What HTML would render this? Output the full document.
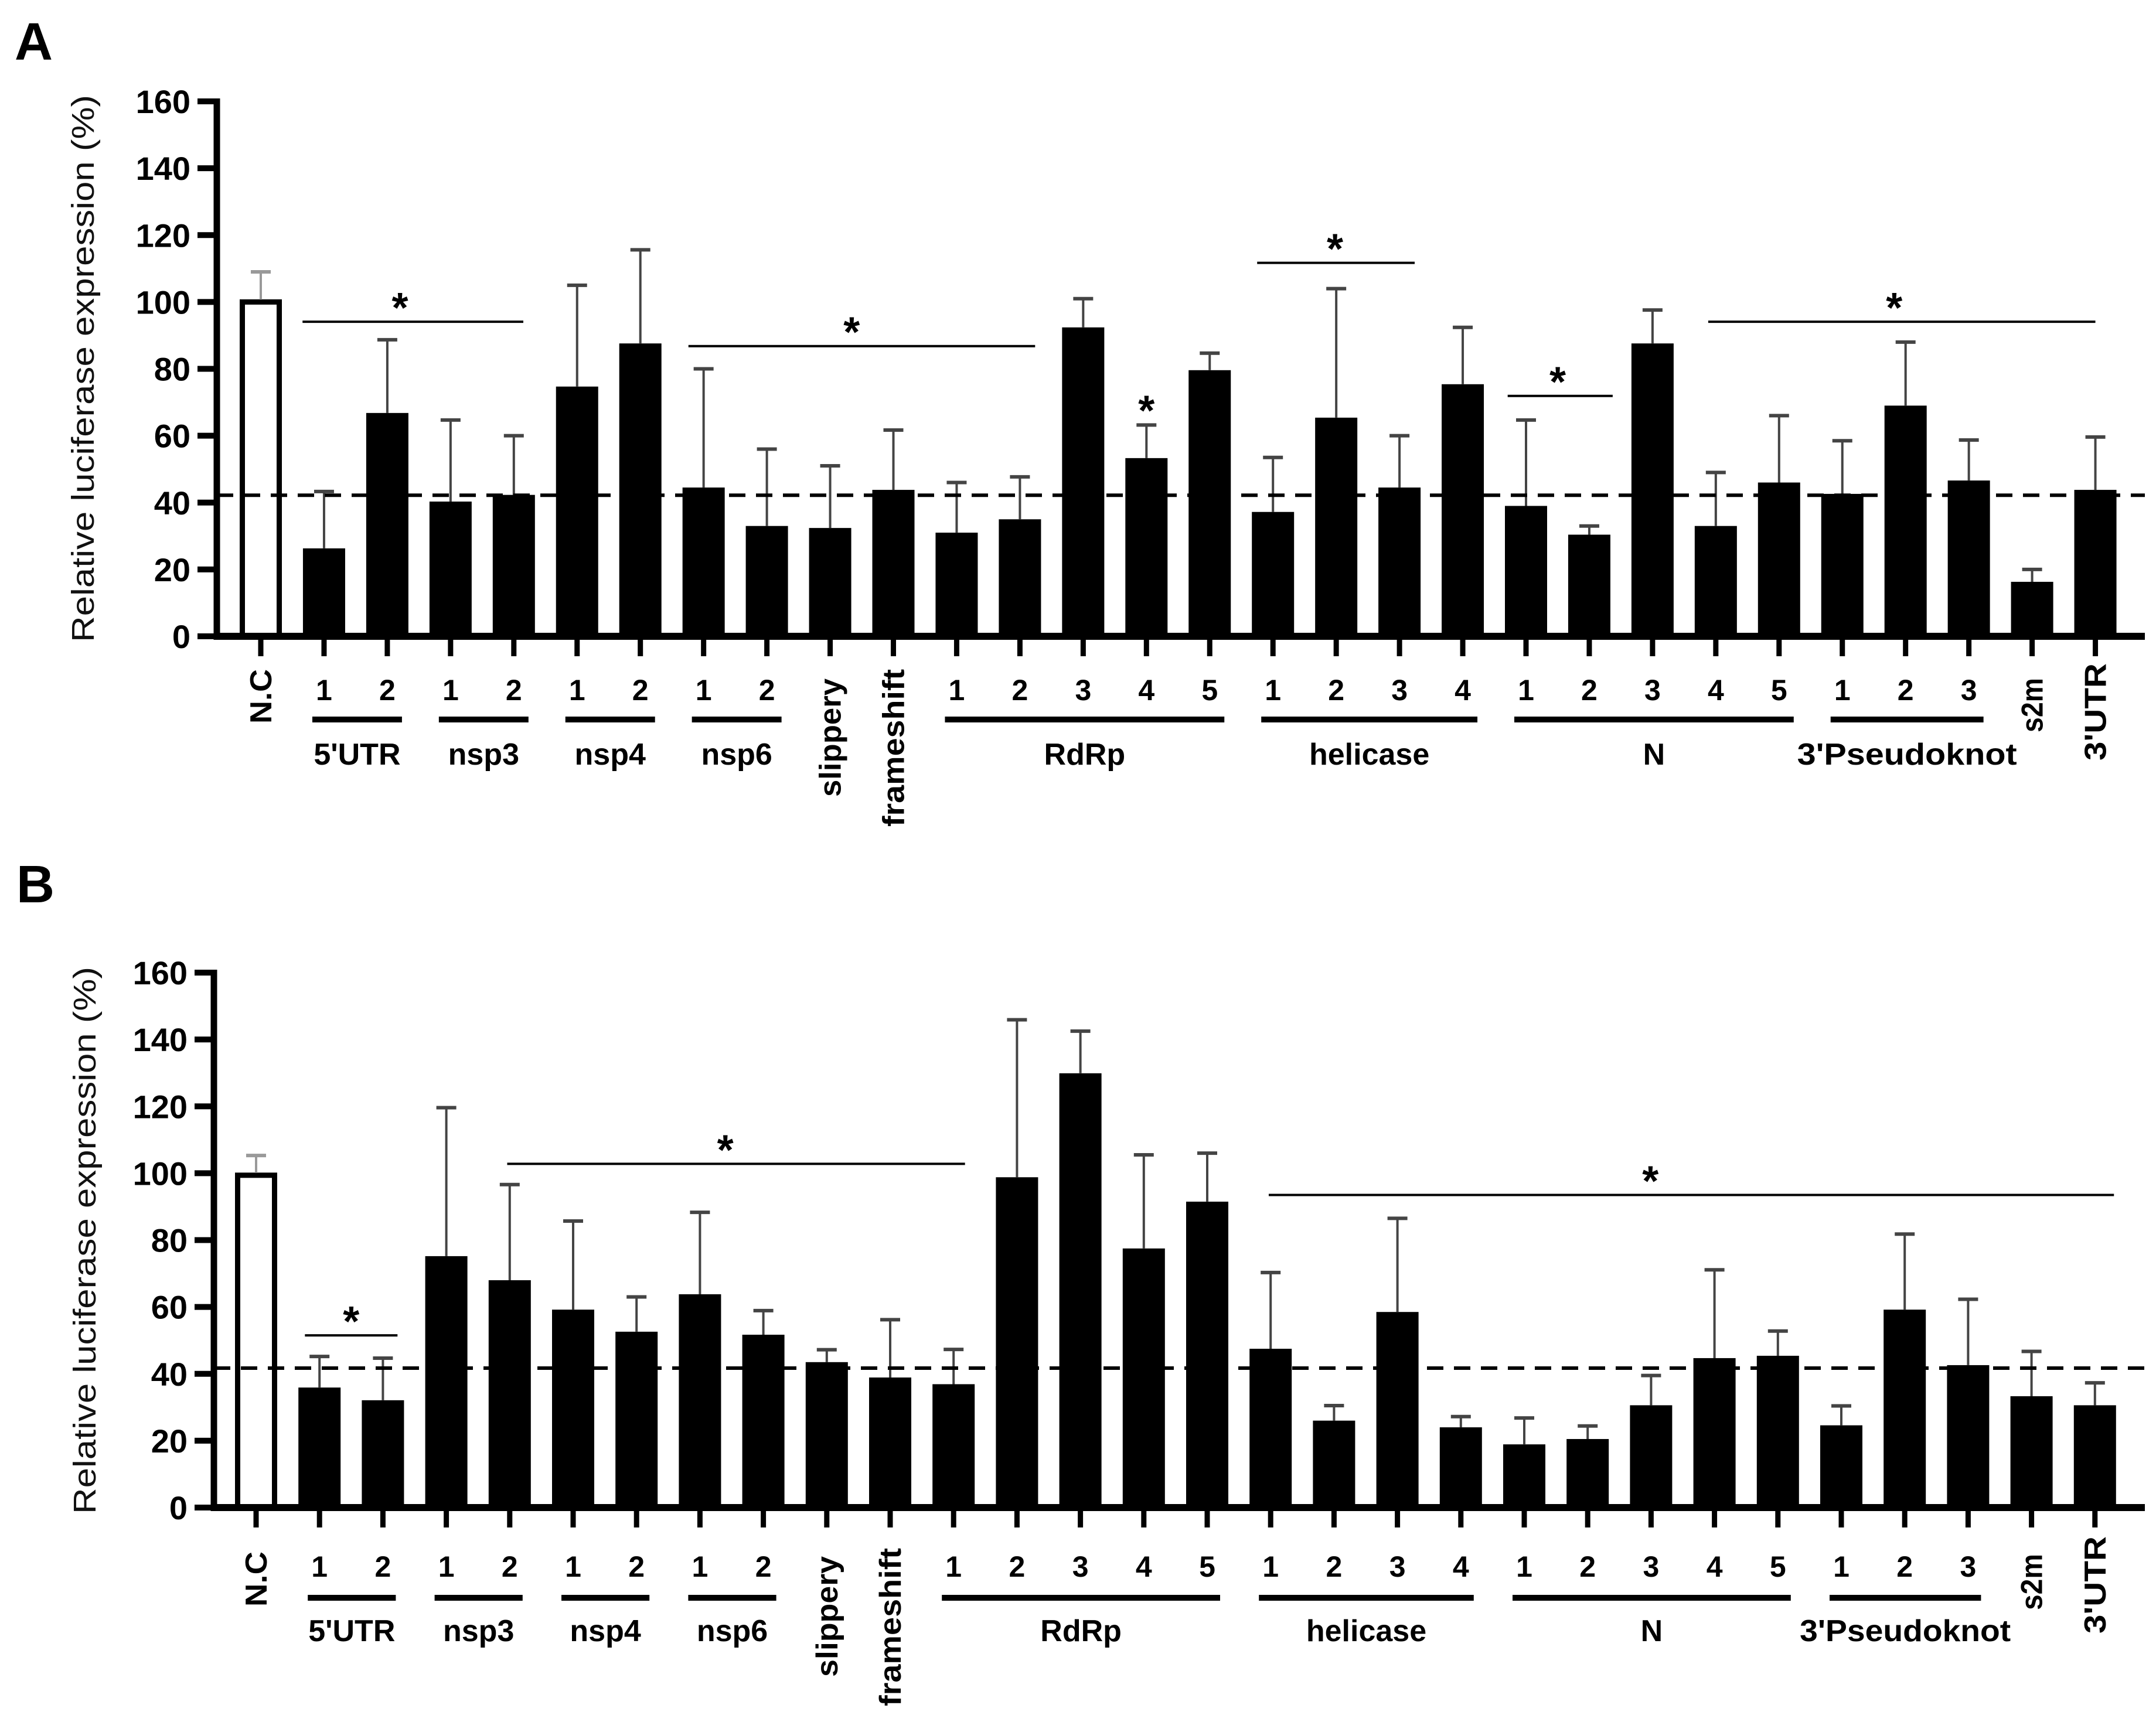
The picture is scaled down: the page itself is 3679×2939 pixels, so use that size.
<!DOCTYPE html>
<html><head><meta charset="utf-8"><title>Relative luciferase expression</title>
<style>html,body{margin:0;padding:0;background:#fff}svg{display:block}text{font-family:"Liberation Sans",Arial,sans-serif}</style>
</head><body>
<svg id="fig" width="3679" height="2939" viewBox="0 0 3679 2939" xmlns="http://www.w3.org/2000/svg">
<rect width="3679" height="2939" fill="#fff"/>
</svg>
<script>
const categories = ['N.C','1','2','1','2','1','2','1','2','slippery','frameshift','1','2','3','4','5','1','2','3','4','1','2','3','4','5','1','2','3','s2m',"3'UTR"];
const groupNames = ["5'UTR",'nsp3','nsp4','nsp6','RdRp','helicase','N',"3'Pseudoknot"];
const groupFirst = [1,3,5,7,11,16,20,25];
const groupLast  = [2,4,6,8,15,19,24,27];
const yTicks = [0,20,40,60,80,100,120,140,160];
const valuesA = [100,26.3,66.8,40.3,42.3,74.7,87.6,44.5,33,32.4,43.8,31,35,92.4,53.3,79.6,37.2,65.4,44.5,75.4,39,30.4,87.6,33,46,42.6,69,46.6,16.3,43.8];
const errA    = [109,43.3,88.7,64.7,60,105,115.6,80,56,51,61.7,46,47.7,101,63.2,84.7,53.5,104,60,92.4,64.7,33,97.6,49,66,58.5,88,58.7,20,59.6];
const valuesB = [99.4,35.9,32.1,75.2,68,59.2,52.6,63.8,51.7,43.5,38.9,36.9,98.8,129.9,77.5,91.5,47.5,26,58.5,24,18.9,20.5,30.6,44.7,45.4,24.6,59.2,42.6,33.3,30.6];
const errB    = [105.3,45.2,44.7,119.6,96.6,85.7,63,88.3,58.9,47.2,56.2,47.3,145.9,142.5,105.5,106,70.3,30.5,86.5,27.2,26.8,24.4,39.5,71.1,52.8,30.4,81.8,62.3,46.7,37.3];
const thresholdA = 42.2;
const thresholdB = 41.7;
// significance brackets (category units, value units)
const sigStartA = [0.66,6.76,15.75,19.71,22.88];
const sigEndA   = [4.15,12.24,18.24,21.37,29.0];
const sigLevelA = [94.1,86.8,111.7,71.9,94.1];
const sigStarA  = [2.2,9.34,16.98,20.5,25.82];
const singleStarIdxA = [14];
const singleStarValA = [69.8];
const sigStartB = [0.77,3.96,15.97];
const sigEndB   = [2.23,11.18,29.3];
const sigLevelB = [51.5,102.8,93.5];
const sigStarB  = [1.5,7.4,21.99];

const NS='http://www.w3.org/2000/svg';
const svg=document.getElementById('fig');
function mk(tag,attrs,parent){const e=document.createElementNS(NS,tag);for(const k in attrs)e.setAttribute(k,attrs[k]);(parent||svg).appendChild(e);return e;}

function panel(cfg){
  const g=mk('g',{});
  
  
  const xS=i=>cfg.x0+i*cfg.dx;
  const yS=v=>cfg.y0-v*cfg.k;
  // panel letter
  const L=mk('text',{x:cfg.letterX,y:cfg.letterY,'font-size':90,'font-weight':'bold'},g);L.textContent=cfg.letter;
  
  
  // y title
  const yt=mk('text',{x:0,y:0,transform:`translate(${cfg.titleX},${cfg.titleY}) rotate(-90)`,'text-anchor':'middle','font-size':54,textLength:934,lengthAdjust:'spacingAndGlyphs',fill:'#111'},g);
  yt.textContent='Relative luciferase expression (%)';
  
  
  // bars
  cfg.vals.forEach((v,i)=>{
    const x=xS(i), w=72;
    let r;
    if(i===0){r=mk('rect',{x:x-w/2+4.5,y:yS(v),width:w-9,height:cfg.y0-yS(v),fill:'#fff',stroke:'#000','stroke-width':9},g);}
    else{r=mk('rect',{x:x-w/2,y:yS(v),width:w,height:cfg.y0-yS(v),fill:'#000'},g);}
    
    
    const col=i===0?'#999':'#444';
    const e1=mk('line',{x1:x,x2:x,y1:yS(v)-(i===0?4:0),y2:yS(cfg.errs[i]),stroke:col,'stroke-width':4},g);
    
    
    const e2=mk('line',{x1:x-17,x2:x+17,y1:yS(cfg.errs[i]),y2:yS(cfg.errs[i]),stroke:col,'stroke-width':6},g);
    
    
  });
  // dashed threshold
  const d=mk('line',{x1:cfg.axisX,x2:3660,y1:yS(cfg.thr),y2:yS(cfg.thr),stroke:'#000','stroke-width':6,'stroke-dasharray':'28 18'},g);
  
  
  // axes
  const ya=mk('line',{x1:cfg.axisX,x2:cfg.axisX,y1:yS(160)-5,y2:cfg.y0+6,stroke:'#000','stroke-width':11},g);
  
  
  const xa=mk('line',{x1:cfg.axisX-5,x2:3660,y1:cfg.y0,y2:cfg.y0,stroke:'#000','stroke-width':12},g);
  
  
  yTicks.forEach(t=>{
    const tl=mk('line',{x1:cfg.axisX-33,x2:cfg.axisX,y1:yS(t),y2:yS(t),stroke:'#000','stroke-width':10},g);
    
    
    const tx=mk('text',{x:cfg.tickLabelRight,y:yS(t)+20,'text-anchor':'end','font-size':56,'font-weight':'bold'},g);
    tx.textContent=t;
    
    
  });
  categories.forEach((c,i)=>{
    const x=xS(i);
    const tk=mk('line',{x1:x,x2:x,y1:cfg.y0,y2:cfg.y0+34,stroke:'#000','stroke-width':9},g);
    
    
    let t;
    if(cfg.rot[c]){
      const [top,bot]=cfg.rot[c];
      t=mk('text',{x:0,y:0,transform:`translate(${x+18},${top}) rotate(-90)`,'text-anchor':'end','font-size':52,'font-weight':'bold',textLength:bot-top,lengthAdjust:'spacingAndGlyphs'},g);
    } else {
      t=mk('text',{x:x,y:cfg.numY+18,'text-anchor':'middle','font-size':50,'font-weight':'bold'},g);
    }
    t.textContent=c;
    
    
  });
  groupNames.forEach((n,j)=>{
    const a=xS(groupFirst[j])-20, b=xS(groupLast[j])+cfg.ulRight;
    const u=mk('line',{x1:a,x2:b,y1:cfg.ulY,y2:cfg.ulY,stroke:'#000','stroke-width':10},g);
    
    
    const t=mk('text',{x:(a+b)/2,y:cfg.nameY+19,'text-anchor':'middle','font-size':52,'font-weight':'bold'},g);
    if(n==="3'Pseudoknot"){t.setAttribute('textLength',cfg.pkLen);t.setAttribute('lengthAdjust','spacingAndGlyphs');}
    t.textContent=n;
    
    
  });
  cfg.sS.forEach((s,j)=>{
    const y=yS(cfg.sL[j]);
    const l=mk('line',{x1:xS(s),x2:xS(cfg.sE[j]),y1:y,y2:y,stroke:'#000','stroke-width':4},g);
    
    
    const st=mk('text',{x:xS(cfg.sStar[j]),y:y-37+38,'text-anchor':'middle','font-size':72,'font-weight':'bold'},g);
    st.textContent='*';
    
    
  });
  (cfg.single||[]).forEach((idx,j)=>{
    const st=mk('text',{x:xS(idx),y:yS(cfg.singleVal[j])+38,'text-anchor':'middle','font-size':72,'font-weight':'bold'},g);
    st.textContent='*';
    
    
  });
}
panel({name:'panel-a',letter:'A',letterX:25,letterY:102,titleX:160,titleY:629,x0:445,dx:107.95,y0:1086,k:5.706,axisX:370,tickLabelRight:325,
  vals:valuesA,errs:errA,thr:thresholdA,numY:1177,ulY:1228,nameY:1286,ulRight:25,pkLen:375,
  rot:{'N.C':[1142,1235],'slippery':[1158,1360],'frameshift':[1142,1411],'s2m':[1157,1250],"3'UTR":[1132,1298]},
  sS:sigStartA,sE:sigEndA,sL:sigLevelA,sStar:sigStarA,single:singleStarIdxA,singleVal:singleStarValA});
panel({name:'panel-b',letter:'B',letterX:28,letterY:1540,titleX:163,titleY:2117,x0:437,dx:108.2,y0:2573,k:5.706,axisX:365,tickLabelRight:320,
  vals:valuesB,errs:errB,thr:thresholdB,numY:2673,ulY:2727,nameY:2782,ulRight:22,pkLen:360,
  rot:{'N.C':[2648,2742],'slippery':[2656,2862],'frameshift':[2642,2912],'s2m':[2652,2748],"3'UTR":[2622,2788]},
  sS:sigStartB,sE:sigEndB,sL:sigLevelB,sStar:sigStarB});
</script>
</body></html>
